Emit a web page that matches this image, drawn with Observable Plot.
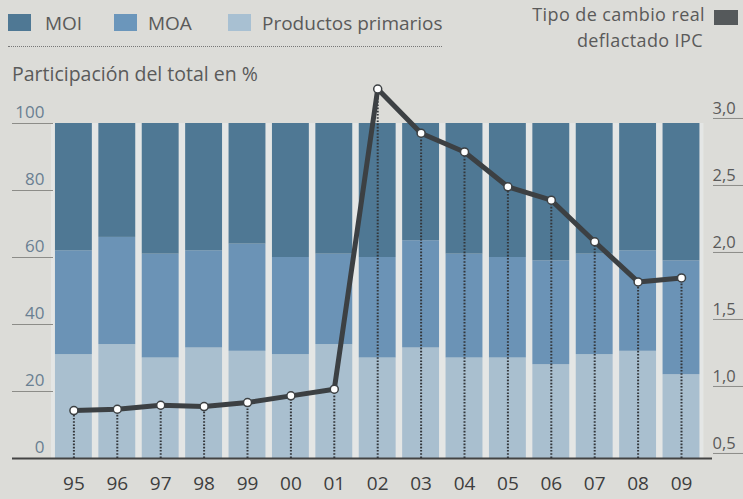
<!DOCTYPE html>
<html>
<head>
<meta charset="utf-8">
<script src="https://cdn.jsdelivr.net/npm/d3@7"></script>
<script src="https://cdn.jsdelivr.net/npm/@observablehq/plot@0.6"></script>
<style>
  html, body { margin: 0; padding: 0; background: #dcdcd8; }
  #wrap { position: relative; width: 743px; height: 499px; overflow: hidden; font-family: "Open Sans", sans-serif; color: #5a5a5a; }
  .t { position: absolute; font-size: 19px; line-height: 19px; white-space: nowrap; }
  .sw { position: absolute; width: 23px; height: 17px; }
  #chart { position: absolute; left: 0; top: 0; }
</style>
</head>
<body>
<div id="wrap">
  <div class="sw" style="left:8px;top:14px;background:#4f7894"></div>
  <div class="t" style="left:45px;top:14px">MOI</div>
  <div class="sw" style="left:114px;top:14px;background:#6b96bb"></div>
  <div class="t" style="left:148px;top:14px">MOA</div>
  <div class="sw" style="left:228px;top:14px;background:#a8c0d2"></div>
  <div class="t" style="left:262px;top:14px">Productos primarios</div>
  <div style="position:absolute;left:8px;top:46px;width:434px;border-top:1px dotted #777"></div>
  <div class="t" style="left:12px;top:64px;font-size:19.5px">Participación del total en %</div>
  <div class="t" style="right:38px;top:5px;text-align:right;font-size:18px;line-height:18px;letter-spacing:0.4px">Tipo de cambio real</div>
  <div class="sw" style="left:714px;top:10px;width:24px;height:15px;background:#55595b"></div>
  <div class="t" style="right:40px;top:31px;text-align:right;font-size:18px;line-height:18px;letter-spacing:0.4px">deflactado IPC</div>
  <div id="chart"></div>
</div>
<script>
const years = ["95","96","97","98","99","00","01","02","03","04","05","06","07","08","09"];
const moi  = [38, 34, 39, 38, 36, 40, 39, 40, 35, 39, 40, 41, 39, 38, 41];
const moa  = [31, 32, 31, 29, 32, 29, 27, 30, 32, 31, 30, 31, 30, 30, 34];
const prim = [31, 34, 30, 33, 32, 31, 34, 30, 33, 30, 30, 28, 31, 32, 25];
const tcr  = [0.82, 0.83, 0.86, 0.85, 0.88, 0.93, 0.98, 3.22, 2.89, 2.75, 2.49, 2.39, 2.08, 1.78, 1.81];
const leftTicks = [0, 20, 40, 60, 80, 100];
const rightTicks = [0.5, 1.0, 1.5, 2.0, 2.5, 3.0];
const series = ["MOI", "MOA", "Productos primarios"];
const colors = ["#4f7894", "#6b93b6", "#a9bfcf"];

// right axis (tipo de cambio) expressed in left-axis units
const toLeft = v => 1.5 + (v - 0.5) * 40;

const rows = [];
years.forEach((y, i) => {
  rows.push({year: y, serie: "Productos primarios", value: prim[i]});
  rows.push({year: y, serie: "MOA", value: moa[i]});
  rows.push({year: y, serie: "MOI", value: moi[i]});
});
const line = years.map((y, i) => ({year: y, v: toLeft(tcr[i])}));

const chart = Plot.plot({
  width: 743,
  height: 499,
  marginLeft: 53,
  marginRight: 31,
  marginTop: 123,
  marginBottom: 41,
  style: {background: "transparent", fontFamily: "Open Sans, sans-serif"},
  x: {domain: years, range: [51.7, 702.7], paddingInner: 0.15, paddingOuter: 0.075, round: false, axis: null},
  y: {domain: [0, 100], axis: null},
  color: {domain: series, range: colors},
  marks: [
    Plot.barY(years, {x: d => d, y: 100, fill: "#e4e6e5", insetLeft: -4, insetRight: -4}),
    Plot.barY(rows, {x: "year", y: "value", fill: "serie"}),
    Plot.axisY({anchor: "left", ticks: leftTicks.slice(1), tickSize: 41, fill: "none", stroke: "#8c8c88", strokeWidth: 1}),
    Plot.axisY({anchor: "right", ticks: rightTicks.map(toLeft), tickSize: 31, fill: "none", stroke: "#8c8c88", strokeWidth: 1}),
    Plot.axisY({anchor: "left", ticks: [0], tickSize: 41, fill: "none", stroke: "#444", strokeWidth: 2}),
    Plot.ruleY([0], {stroke: "#444", strokeWidth: 2}),
    Plot.text(leftTicks, {y: d => d, text: d => String(d), frameAnchor: "left", dx: -9, dy: -11, textAnchor: "end", fill: "#6a7f92", fontSize: 17}),
    Plot.text(rightTicks, {y: toLeft, text: d => d.toFixed(1).replace(".", ","), frameAnchor: "right", dx: 0, dy: -10, textAnchor: "start", fill: "#5a5a5a", fontSize: 16.5}),
    Plot.text(years, {x: d => d, text: d => d, frameAnchor: "bottom", dy: 31, fill: "#3e3e3e", fontSize: 19}),
    Plot.ruleX(line, {x: "year", y1: 0, y2: "v", stroke: "#33363a", strokeWidth: 2, strokeDasharray: "1.6,1.6"}),
    Plot.line(line, {x: "year", y: "v", stroke: "#3c4043", strokeWidth: 5, strokeLinejoin: "round"}),
    Plot.dot(line, {x: "year", y: "v", r: 4, fill: "white", stroke: "#3c4043", strokeWidth: 1.5})
  ]
});
document.getElementById("chart").appendChild(chart);
</script>
</body>
</html>
